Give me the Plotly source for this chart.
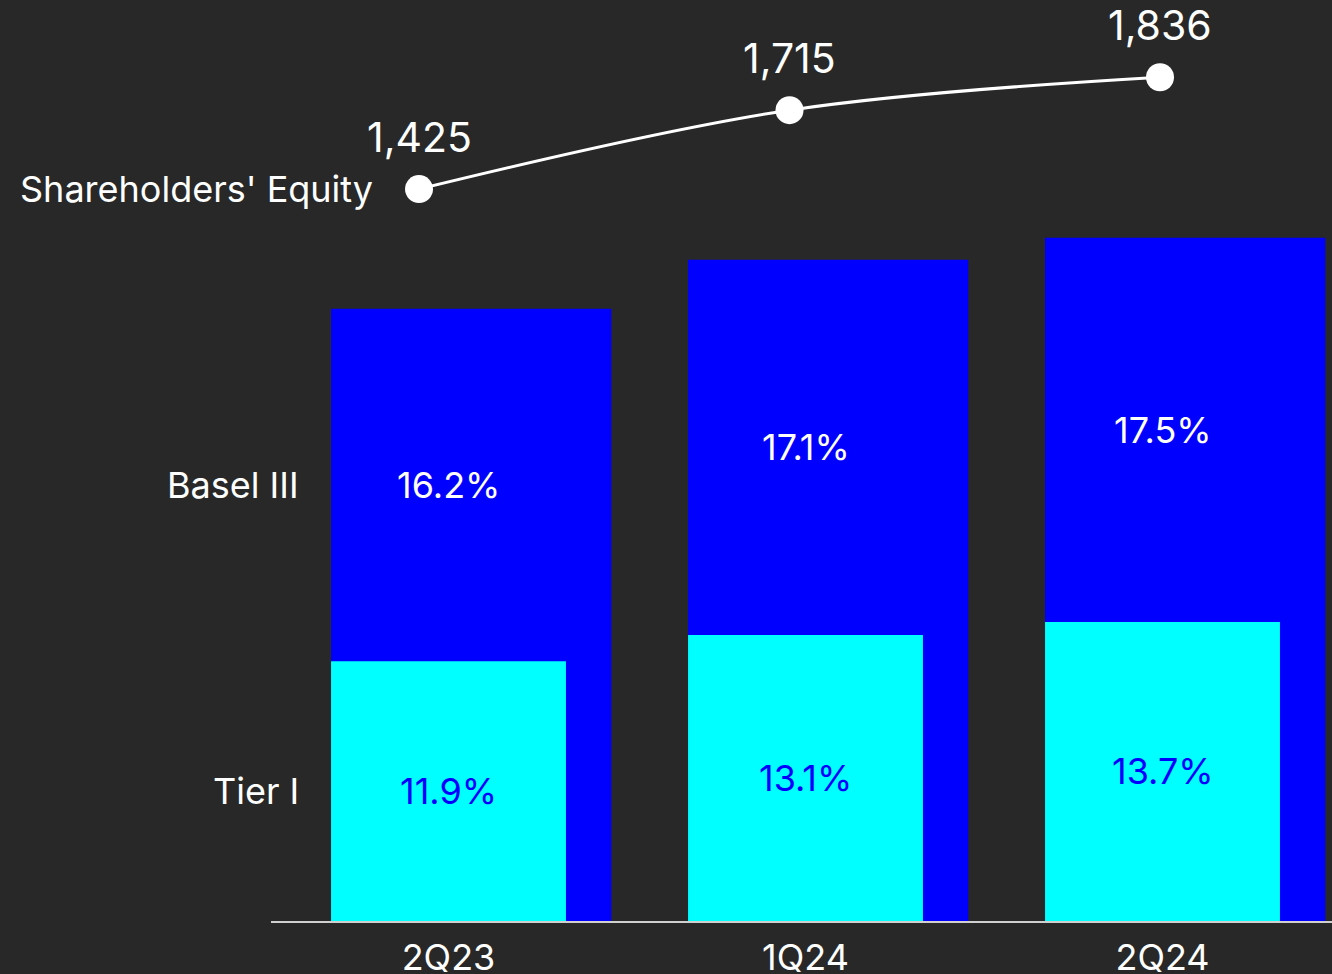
import plotly.graph_objects as go

# Quarterly capital ratios and shareholders' equity
quarters = ["2Q23", "1Q24", "2Q24"]
basel_iii = [16.2, 17.1, 17.5]
tier_i = [11.9, 13.1, 13.7]
equity = [1425, 1715, 1836]

BG = "#282828"
BLUE = "#0000FF"
CYAN = "#00FFFF"
FONT = "Inter"
SIZE = 36

# axis ranges (value scales)
Y_BASEL = [5, 21.85]
Y_TIER = [0, 42.19]
Y_EQ = [-1266, 2120]
X_BARS = [-0.4972, 2.4748]
X_LINE = [-0.3995, 2.4642]

fig = go.Figure()

# Basel III bars (wide, behind)
fig.add_trace(go.Bar(
    x=quarters, y=basel_iii, xaxis="x", yaxis="y",
    marker=dict(color=BLUE, line=dict(width=0)),
    width=0.785, offset=-0.329, hoverinfo="skip", showlegend=False,
))

# Tier I bars (narrower, in front)
fig.add_trace(go.Bar(
    x=quarters, y=tier_i, xaxis="x", yaxis="y2",
    marker=dict(color=CYAN, line=dict(width=0)),
    width=0.658, offset=-0.329, hoverinfo="skip", showlegend=False,
))

# Shareholders' equity line
fig.add_trace(go.Scatter(
    x=quarters, y=equity, xaxis="x2", yaxis="y3",
    mode="lines+markers",
    line=dict(color="white", width=3, shape="spline", smoothing=1),
    marker=dict(color="white", size=28),
    hoverinfo="skip", showlegend=False,
))


def frac(v, rng):
    return (v - rng[0]) / (rng[1] - rng[0])


annotations = []
for q, b, t in zip(quarters, basel_iii, tier_i):
    fb = frac(b, Y_BASEL)
    ft = frac(t, Y_TIER)
    annotations.append(dict(
        x=q, xref="x", y=(fb + ft) / 2, yref="paper", yanchor="middle",
        text=f"{b:.1f}%", showarrow=False,
        font=dict(family=FONT, size=SIZE, color="white"),
    ))
    annotations.append(dict(
        x=q, xref="x", y=ft / 2, yref="paper", yanchor="middle",
        text=f"{t:.1f}%", showarrow=False,
        font=dict(family=FONT, size=SIZE, color=BLUE),
    ))

for q, e in zip(quarters, equity):
    annotations.append(dict(
        x=q, xref="x2", y=e, yref="y3", yanchor="middle",
        text=f"{e:,}", showarrow=False, yshift=52,
        font=dict(family=FONT, size=41, color="white"),
    ))

annotations.append(dict(
    x=quarters[0], xref="x2", y=equity[0], yref="y3", yanchor="middle",
    text="Shareholders' Equity", showarrow=False,
    xanchor="right", xshift=-44,
    font=dict(family=FONT, size=SIZE, color="white"),
))

fb0 = frac(basel_iii[0], Y_BASEL)
ft0 = frac(tier_i[0], Y_TIER)
annotations.append(dict(
    x=0, xref="paper", y=(fb0 + ft0) / 2, yref="paper", yanchor="middle",
    text="Basel III", showarrow=False, xanchor="right", xshift=30,
    font=dict(family=FONT, size=SIZE, color="white"),
))
annotations.append(dict(
    x=0, xref="paper", y=ft0 / 2, yref="paper", yanchor="middle",
    text="Tier I", showarrow=False, xanchor="right", xshift=30,
    font=dict(family=FONT, size=SIZE, color="white"),
))

fig.update_layout(
    width=1332, height=974,
    margin=dict(l=271, r=0, t=0, b=53, autoexpand=False),
    paper_bgcolor=BG, plot_bgcolor=BG,
    barmode="overlay",
    font=dict(family=FONT, size=SIZE, color="white"),
    xaxis=dict(
        type="category", range=X_BARS, showgrid=False, zeroline=False,
        showline=True, linecolor="#d0d0d0", linewidth=2,
        ticks="", ticklabelstandoff=4,
        tickfont=dict(family=FONT, size=SIZE, color="white"),
    ),
    xaxis2=dict(
        type="category", range=X_LINE, overlaying="x", visible=False,
    ),
    yaxis=dict(range=Y_BASEL, visible=False, showgrid=False, zeroline=False),
    yaxis2=dict(range=Y_TIER, overlaying="y", visible=False, showgrid=False, zeroline=False),
    yaxis3=dict(range=Y_EQ, overlaying="y", visible=False, showgrid=False, zeroline=False),
    annotations=annotations,
)

fig.write_html("out.html")
